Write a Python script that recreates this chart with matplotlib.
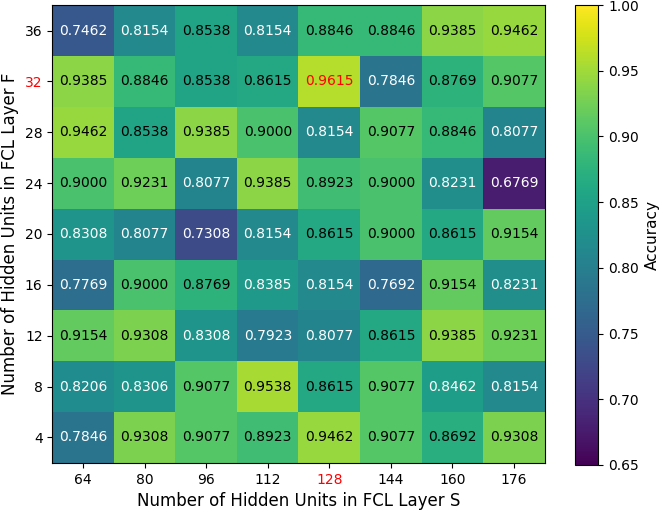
import numpy as np
import matplotlib
matplotlib.use("Agg")
import matplotlib.pyplot as plt

units_s = [64, 80, 96, 112, 128, 144, 160, 176]
units_f = [4, 8, 12, 16, 20, 24, 28, 32, 36]

# rows follow units_f (bottom to top)
acc = np.array([
    [0.7846, 0.9308, 0.9077, 0.8923, 0.9462, 0.9077, 0.8692, 0.9308],  # 4
    [0.8206, 0.8306, 0.9077, 0.9538, 0.8615, 0.9077, 0.8462, 0.8154],  # 8
    [0.9154, 0.9308, 0.8308, 0.7923, 0.8077, 0.8615, 0.9385, 0.9231],  # 12
    [0.7769, 0.9000, 0.8769, 0.8385, 0.8154, 0.7692, 0.9154, 0.8231],  # 16
    [0.8308, 0.8077, 0.7308, 0.8154, 0.8615, 0.9000, 0.8615, 0.9154],  # 20
    [0.9000, 0.9231, 0.8077, 0.9385, 0.8923, 0.9000, 0.8231, 0.6769],  # 24
    [0.9462, 0.8538, 0.9385, 0.9000, 0.8154, 0.9077, 0.8846, 0.8077],  # 28
    [0.9385, 0.8846, 0.8538, 0.8615, 0.9615, 0.7846, 0.8769, 0.9077],  # 32
    [0.7462, 0.8154, 0.8538, 0.8154, 0.8846, 0.8846, 0.9385, 0.9462],  # 36
])

best_s = 128
best_f = 32

fig = plt.figure(figsize=(6.62, 5.12), dpi=100)
ax = fig.add_axes([0.079, 0.096, 0.744, 0.894])
cax = fig.add_axes([0.869, 0.092, 0.035, 0.898])

im = ax.imshow(acc, cmap="viridis", vmin=0.65, vmax=1.0, origin="lower", aspect="auto")

for i in range(len(units_f)):
    for j in range(len(units_s)):
        v = acc[i, j]
        if units_f[i] == best_f and units_s[j] == best_s:
            color = "red"
        elif v < 0.85:
            color = "white"
        else:
            color = "black"
        ax.text(j, i, f"{v:.4f}", ha="center", va="center", color=color, fontsize=10)

ax.set_xticks(range(len(units_s)))
ax.set_xticklabels(units_s)
ax.set_yticks(range(len(units_f)))
ax.set_yticklabels(units_f)
for lbl, s in zip(ax.get_xticklabels(), units_s):
    if s == best_s:
        lbl.set_color("red")
for lbl, f in zip(ax.get_yticklabels(), units_f):
    if f == best_f:
        lbl.set_color("red")

ax.set_xlabel("Number of Hidden Units in FCL Layer S", fontsize=12)
ax.set_ylabel("Number of Hidden Units in FCL Layer F", fontsize=12)

cb = fig.colorbar(im, cax=cax)
cb.set_label("Accuracy", fontsize=11)

fig.savefig("out.png", dpi=100)
